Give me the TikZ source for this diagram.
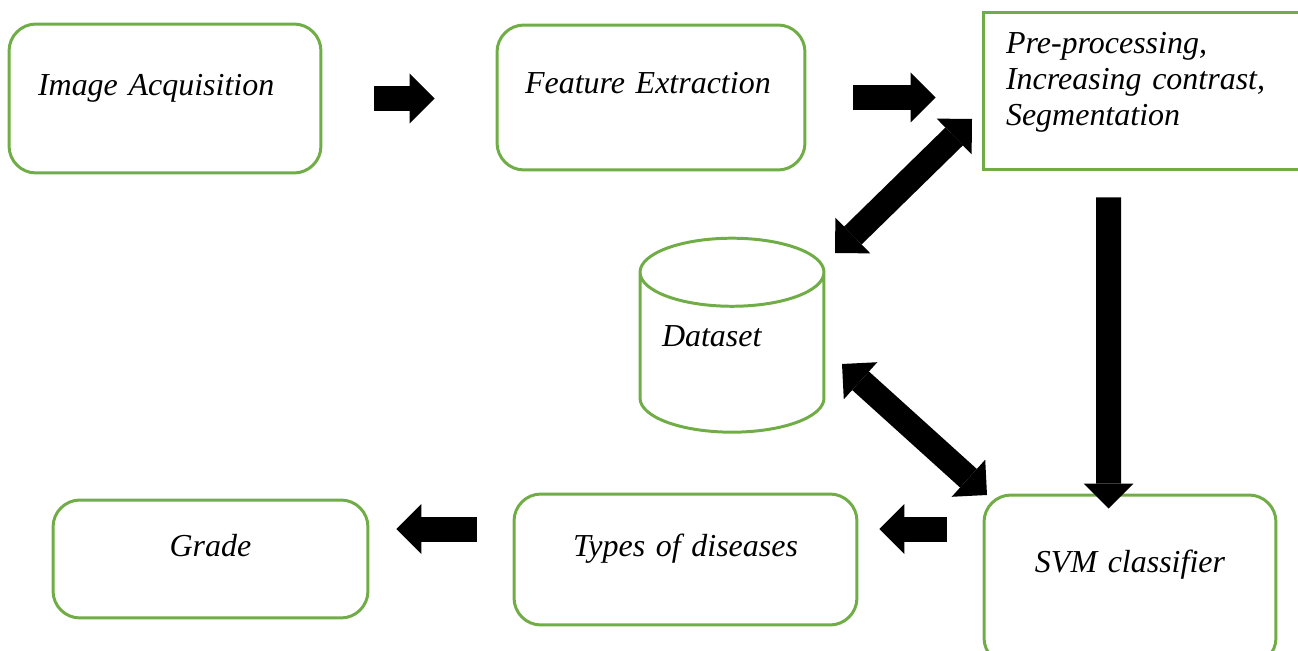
\documentclass[tikz,border=0pt]{standalone}
\usepackage{fontspec}
\setmainfont{Liberation Serif}
\usetikzlibrary{shapes.geometric, arrows.meta, positioning, calc}

\begin{document}
\begin{tikzpicture}[x=0.02cm, y=-0.02cm,
  font=\fontsize{18.2pt}{20.5pt}\selectfont\itshape,
  roundbox/.style={rectangle, rounded corners=0.54cm, draw=boxgreen, line width=1.7pt, inner sep=0pt},
  plainbox/.style={rectangle, draw=boxgreen, line width=1.7pt, inner sep=0pt},
  database/.style={cylinder, shape border rotate=90, aspect=0.37, draw=boxgreen, line width=1.7pt, minimum width=3.68cm, minimum height=3.88cm, inner sep=0pt},
  blk/.style={line width=0.5cm, -{Triangle[length=0.5cm, width=1cm, line width=0pt]}},
  dblk/.style={line width=0.5cm, {Triangle[length=0.5cm, width=1cm, line width=0pt]}-{Triangle[length=0.5cm, width=1cm, line width=0pt]}}]

  \definecolor{boxgreen}{RGB}{112,173,71}
  \useasboundingbox (0,0) rectangle (1298,651);

  % Nodes
  \node (iacq) [roundbox, align=left, inner xsep=0.58cm, text width=5.08cm, text height=1.44cm, text depth=1.54cm] at (165,98.5) {Image Acquisition};
  \node (fext) [roundbox, align=left, inner xsep=0.56cm, text width=5.04cm, text height=1.38cm, text depth=1.52cm] at (651,97.5) {Feature Extraction};
  \node (prep) [plainbox, align=left, inner xsep=0.46cm, text width=6.28cm, text height=0.82cm, text depth=2.34cm] at (1163,91) {Pre-processing,\\ Increasing contrast,\\ Segmentation};
  \node (dset) [database, align=left, inner xsep=0.44cm, text width=2.8cm, text height=0.4cm, text depth=1.12cm] at (732,364) {Dataset};
  \node (svm) [roundbox, align=center, text width=5.84cm, text height=1.54cm, text depth=1.86cm] at (1130,580) {SVM classifier};
  \node (types) [roundbox, align=center, text width=6.86cm, text height=1.24cm, text depth=1.38cm] at (685.5,559.5) {Types of diseases};
  \node (grade) [roundbox, align=center, text width=6.3cm, text height=1.14cm, text depth=1.22cm] at (210.5,559) {Grade};

  \coordinate (dsetup) at (835,253);
  \coordinate (prepdown) at (972,119);
  \coordinate (dsetlow) at (842,364);
  \coordinate (svmcorner) at (987,495);
  \coordinate (svmleft) at ($(svm.north west)+(0,35.5)$);

  % Arrows
  \draw [blk, shorten <=1.04cm, shorten >=1.22cm] (iacq.east) -- (iacq.east -| fext.west);
  \draw [blk, shorten <=0.94cm, shorten >=0.92cm] (fext.east) -- (fext.east -| prep.west);
  \draw [dblk] (dsetup) -- (prepdown);
  \draw [blk, shorten <=0.52cm, shorten >=-0.3cm] ($(prep.south west)+(127,0)$) -- ($(svm.north west)+(126,0)$);
  \draw [dblk] (dsetlow) -- (svmcorner);
  \draw [blk, shorten <=0.72cm, shorten >=0.42cm] (svmleft) -- (svmleft -| types.east);
  \draw [blk, shorten <=0.72cm, shorten >=0.54cm] (types.west |- svmleft) -- (svmleft -| grade.east);

\end{tikzpicture}
\end{document}
